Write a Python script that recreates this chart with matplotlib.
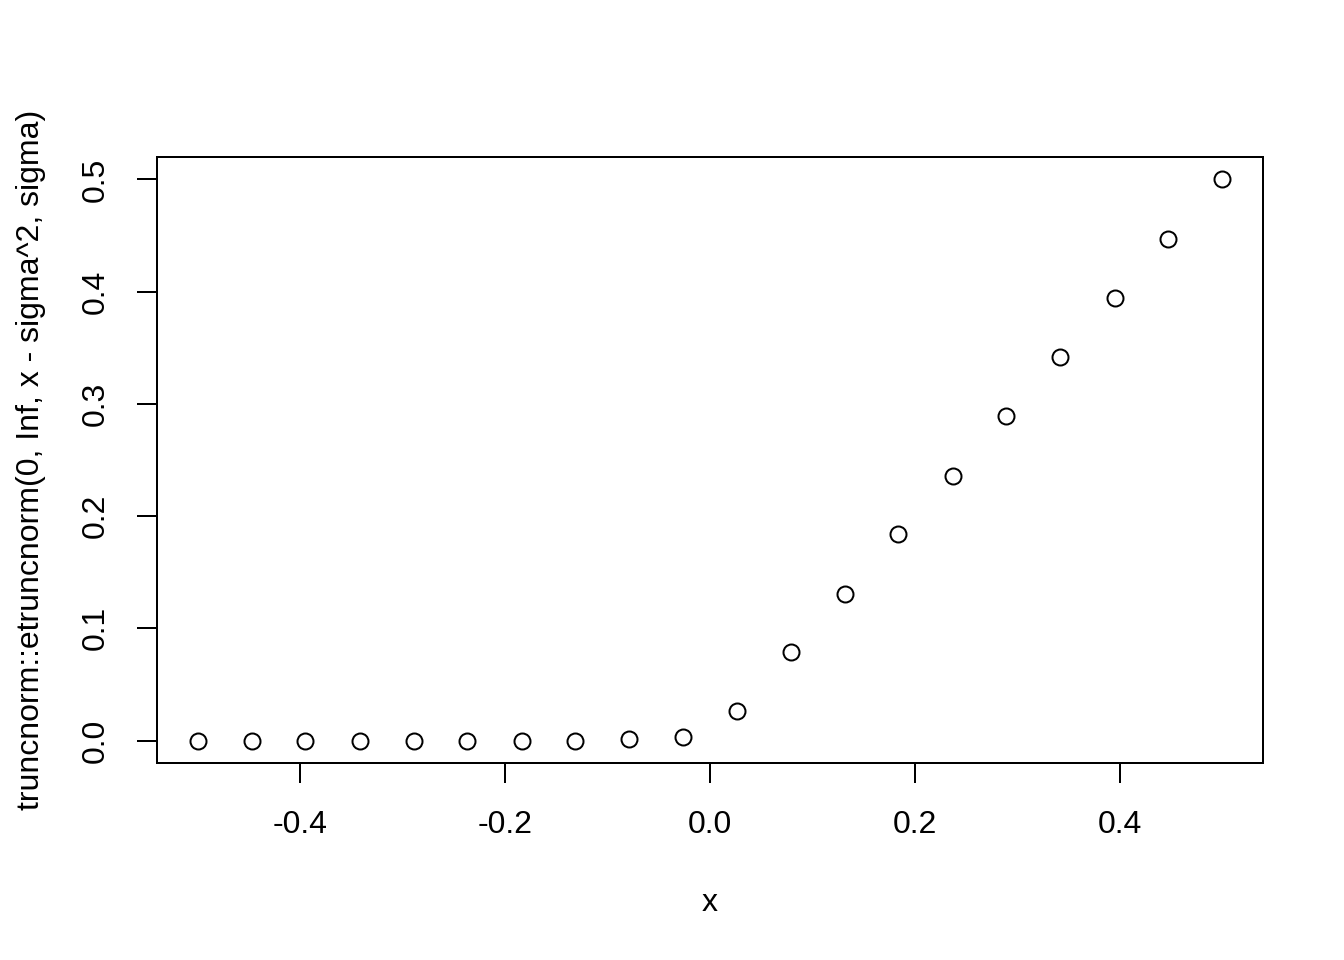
import matplotlib
matplotlib.use("Agg")
import matplotlib.pyplot as plt

plt.rcParams["font.family"] = ["Liberation Sans", "DejaVu Sans"]

# seq(-0.5, 0.5, length = 20)
x = [-0.5, -0.447, -0.395, -0.342, -0.289, -0.237, -0.184, -0.132, -0.079, -0.026,
     0.026, 0.079, 0.132, 0.184, 0.237, 0.289, 0.342, 0.395, 0.447, 0.5]
y = [0.0, 0.0, 0.0, 0.0, 0.0, 0.0, 0.0, 0.0, 0.001, 0.003,
     0.026, 0.079, 0.131, 0.184, 0.236, 0.289, 0.342, 0.394, 0.447, 0.5]

xticks = [-0.4, -0.2, 0.0, 0.2, 0.4]
yticks = [0.0, 0.1, 0.2, 0.3, 0.4, 0.5]

fig = plt.figure(figsize=(7, 5), dpi=192)
ax = fig.add_axes([157 / 1344, 1 - 763 / 960, (1263 - 157) / 1344, (763 - 157) / 960])

ax.plot(x, y, "o", mfc="none", mec="black", ms=6, mew=0.75)
ax.set_xlim(-0.54, 0.54)
ax.set_ylim(-0.02, 0.52)

ax.set_xticks(xticks)
ax.set_xticklabels([f"{v:.1f}" for v in xticks])
ax.set_yticks(yticks)
ax.set_yticklabels([f"{v:.1f}" for v in yticks], rotation=90, va="center")
ax.tick_params(length=7.5, width=0.75, labelsize=12, pad=10)
for s in ax.spines.values():
    s.set_linewidth(0.75)

ax.set_xlabel("x", fontsize=12, labelpad=18)
ax.set_ylabel("truncnorm::etruncnorm(0, Inf, x - sigma^2, sigma)", fontsize=12, labelpad=13)

fig.savefig("out.png", dpi=192)
